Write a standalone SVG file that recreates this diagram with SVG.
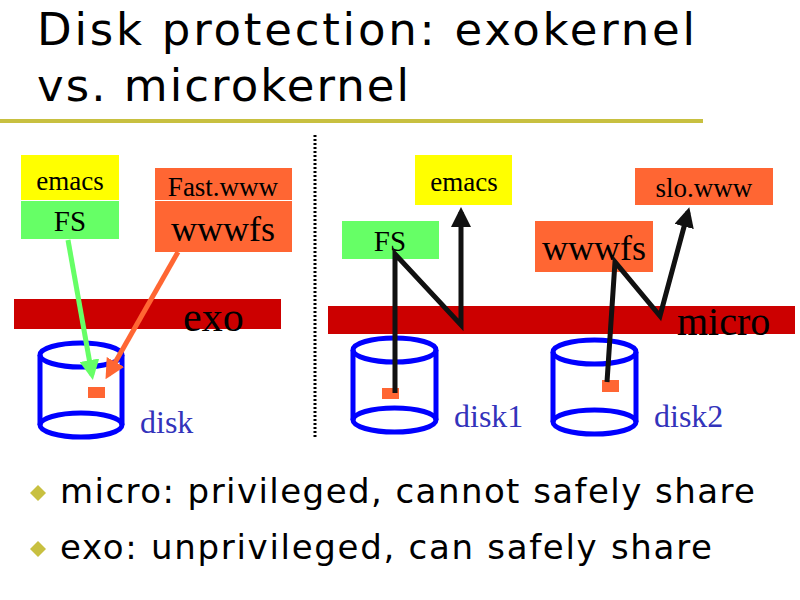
<svg xmlns="http://www.w3.org/2000/svg" width="800" height="600" viewBox="0 0 800 600">
<style>
.t{font-family:"Liberation Serif",serif;fill:#000}
.s{font-family:"DejaVu Sans",sans-serif;fill:#000}
.disk{fill:none;stroke:#0000ff;stroke-width:5}
.bl{font-family:"Liberation Serif",serif;fill:#3333bb;font-size:32px}
.k{fill:none;stroke:#111;stroke-width:5}
</style>
<defs>
<marker id="ak" markerWidth="4" markerHeight="4" refX="3" refY="2" orient="auto"><path d="M0,0 L4,2 L0,4 z" fill="#111"/></marker>
<marker id="ag" markerWidth="4" markerHeight="4" refX="3" refY="2" orient="auto"><path d="M0,0 L4,2 L0,4 z" fill="#66ff66"/></marker>
<marker id="ao" markerWidth="4" markerHeight="4" refX="3" refY="2" orient="auto"><path d="M0,0 L4,2 L0,4 z" fill="#ff6633"/></marker>
</defs>
<rect width="800" height="600" fill="#fff"/>
<g id="title">
<text class="s" x="37" y="45" font-size="45" textLength="658" lengthAdjust="spacing">Disk protection: exokernel</text>
<text class="s" x="37" y="101" font-size="45" textLength="372" lengthAdjust="spacing">vs. microkernel</text>
<rect x="0" y="119" width="703" height="4" fill="#c8c040"/>
</g>
<line x1="315" y1="135" x2="315" y2="437" stroke="#000" stroke-width="3" stroke-dasharray="2,2"/>
<g id="exo-bar"><rect x="14" y="299" width="267" height="30" fill="#cc0000"/><text class="t" x="183" y="331" font-size="42">exo</text></g>
<g id="micro-bar"><rect x="328" y="306" width="467" height="28" fill="#cc0000"/><text class="t" x="677" y="335" font-size="40">micro</text></g>
<g id="l-emacs"><rect x="21" y="155" width="98" height="45" fill="#ffff00"/><text class="t" x="70" y="190" font-size="27" text-anchor="middle">emacs</text></g>
<g id="l-fs"><rect x="21" y="201" width="98" height="38" fill="#66ff66"/><text class="t" x="70" y="231" font-size="29" text-anchor="middle">FS</text></g>
<g id="l-fast"><rect x="155" y="168" width="137" height="32" fill="#ff6633"/><text class="t" x="223" y="196" font-size="27" text-anchor="middle">Fast.www</text></g>
<g id="l-wwwfs"><rect x="155" y="201" width="137" height="51" fill="#ff6633"/><text class="t" x="223" y="241" font-size="36" text-anchor="middle">wwwfs</text></g>
<g id="disk0">
<path class="disk" d="M40,355 V425 M122,355 V425"/>
<ellipse class="disk" cx="81" cy="355" rx="41" ry="12"/>
<path class="disk" d="M40,425 A41,12 0 0 0 122,425 A41,12 0 0 0 40,425"/>
<rect x="88" y="387" width="17" height="11" fill="#ff6633"/>
<text class="bl" x="140" y="433">disk</text>
</g>
<g id="r-emacs"><rect x="415" y="155" width="97" height="50" fill="#ffff00"/><text class="t" x="464" y="191" font-size="27" text-anchor="middle">emacs</text></g>
<g id="r-fs"><rect x="342" y="221" width="97" height="38" fill="#66ff66"/><text class="t" x="390" y="251" font-size="29" text-anchor="middle">FS</text></g>
<g id="r-slo"><rect x="635" y="168" width="138" height="37" fill="#ff6633"/><text class="t" x="704" y="197" font-size="27" text-anchor="middle">slo.www</text></g>
<g id="r-wwwfs"><rect x="535" y="221" width="118" height="51" fill="#ff6633"/><text class="t" x="594" y="260" font-size="36" text-anchor="middle">wwwfs</text></g>
<g id="disk1">
<path class="disk" d="M353,350 V420 M436,350 V420"/>
<ellipse class="disk" cx="394.5" cy="350" rx="41.5" ry="12"/>
<path class="disk" d="M353,420 A41.5,12 0 0 0 436,420 A41.5,12 0 0 0 353,420"/>
<rect x="382" y="388" width="17" height="11" fill="#ff6633"/>
<text class="bl" x="454" y="427">disk1</text>
</g>
<g id="disk2">
<path class="disk" d="M553,352 V422 M636,352 V422"/>
<ellipse class="disk" cx="594.5" cy="352" rx="41.5" ry="12"/>
<path class="disk" d="M553,422 A41.5,12 0 0 0 636,422 A41.5,12 0 0 0 553,422"/>
<rect x="602" y="380" width="17" height="12" fill="#ff6633"/>
<text class="bl" x="654" y="427">disk2</text>
</g>
<g id="connectors">
<line x1="68" y1="240" x2="92" y2="375" stroke="#66ff66" stroke-width="5" marker-end="url(#ag)"/>
<line x1="178" y1="252" x2="108" y2="375" stroke="#ff6633" stroke-width="5" marker-end="url(#ao)"/>
<polyline class="k" points="395,393 395,254 461,325 461,212" marker-end="url(#ak)"/>
<polyline class="k" points="607,382 615,262 660,316 688,212" marker-end="url(#ak)"/>
</g>
<g id="bullets">
<path d="M38,485 L46,493 L38,501 L30,493 z" fill="#c8c040"/>
<text class="s" x="60" y="503" font-size="34" textLength="695" lengthAdjust="spacing">micro: privileged, cannot safely share</text>
<path d="M38,541 L46,549 L38,557 L30,549 z" fill="#c8c040"/>
<text class="s" x="60" y="559" font-size="34" textLength="652" lengthAdjust="spacing">exo:  unprivileged, can safely share</text>
</g>
</svg>
